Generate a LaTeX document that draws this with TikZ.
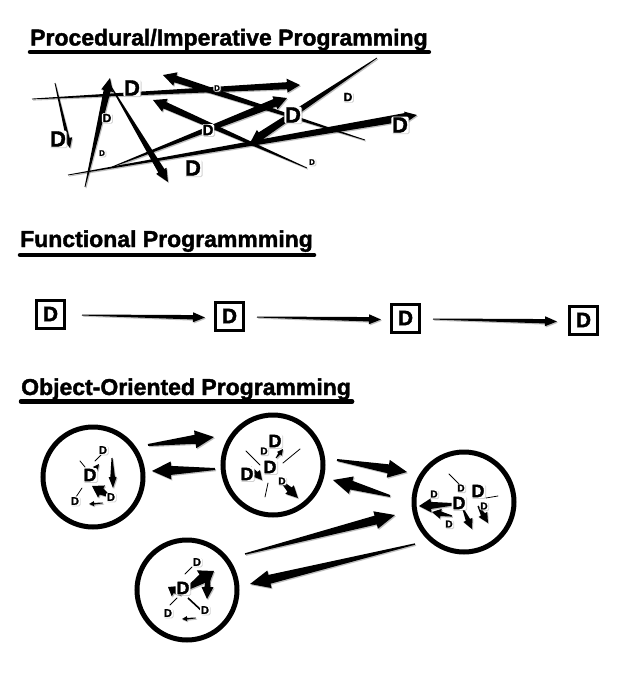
\documentclass[tikz,border=0pt]{standalone}
\usepackage{fontspec}
\setmainfont{Liberation Sans}
\newfontfamily\heavyfont[FakeBold=1.6]{Liberation Sans Bold}
\usetikzlibrary{calc,shadows}

% tapered arrow: #1 tail, #2 tip, #3 tail half-width, #4 shaft half-width at head, #5 head length, #6 head half-width
\newcommand\tarrow[6]{%
  \path (#1) coordinate (tas) (#2) coordinate (tae);
  \pgfpointdiff{\pgfpointanchor{tas}{center}}{\pgfpointanchor{tae}{center}}%
  \pgfgetlastxy{\tadx}{\tady}%
  \pgfmathsetmacro\taang{atan2(\tady,\tadx)}%
  \pgfmathsetmacro\talen{veclen(\tadx,\tady)}%
  \pgfmathsetmacro\tamid{\talen-#5}%
  \begin{scope}[shift={(tas)}, xshift=1pt, yshift=-1.2pt, rotate=\taang, x=1pt, y=1pt]
    \fill[black, opacity=0.25] (0,#3) -- (\tamid,#4) -- (\tamid,#6) -- (\talen,0) -- (\tamid,-#6) -- (\tamid,-#4) -- (0,-#3) -- cycle;
  \end{scope}
  \begin{scope}[shift={(tas)}, rotate=\taang, x=1pt, y=1pt]
    \fill[black] (0,#3) -- (\tamid,#4) -- (\tamid,#6) -- (\talen,0) -- (\tamid,-#6) -- (\tamid,-#4) -- (0,-#3) -- cycle;
  \end{scope}}

\begin{document}
\begin{tikzpicture}[x=1pt,y=-1pt,
  ttl/.style={font=\heavyfont\fontsize{23}{24}\selectfont, anchor=base west, inner sep=0pt},
  uline/.style={line width=4.5pt, line cap=round},
  fbox/.style={draw, line width=3pt, minimum size=28pt, inner sep=0pt, fill=white,
     font=\heavyfont\fontsize{21}{21}\selectfont,
     drop shadow={opacity=0.35, shadow xshift=1pt, shadow yshift=-1.2pt}},
  obj/.style={draw, circle, line width=5pt, minimum size=100pt, inner sep=0pt, fill=white,
     drop shadow={opacity=0.3, shadow xshift=1.2pt, shadow yshift=-1.5pt}},
  dl/.style={font=\heavyfont\fontsize{#1}{#1}\selectfont, fill=white, rounded corners=1.5pt,
     inner sep=0.8pt, drop shadow={opacity=0.35, shadow xshift=0.8pt, shadow yshift=-0.8pt}},
  thinl/.style={line width=0.8pt, line cap=round}]
\useasboundingbox[fill=white] (0,0) rectangle (628,680);

% ---------- titles ----------
\node[ttl] (t1) at (30,45.5) {Procedural/Imperative Programming};
\draw[uline] ($(t1.base west)+(0,6.5)$) -- ($(t1.base east)+(1,6.5)$);
\node[ttl] (t2) at (20,247) {Functional Programmming};
\draw[uline] ($(t2.base west)+(0,8)$) -- ($(t2.base east)+(1,8)$);
\node[ttl] (t3) at (21,395) {Object-Oriented Programming};
\draw[uline] ($(t3.base west)+(0,6.5)$) -- ($(t3.base east)+(1,6.5)$);

% ---------- procedural ----------
\tarrow{32,99}{300,85}{0.4}{3.5}{13}{7}
\tarrow{365,140}{163,75}{0.4}{3.5}{13}{7}
\tarrow{307,168}{153,100}{0.4}{3.5}{13}{7}
\tarrow{68,175}{417,115}{0.4}{4}{12}{5.5}
\tarrow{112,167}{287,98}{0.4}{4}{13}{7}
\tarrow{377,58}{250,143}{0.4}{4}{13}{7}
\tarrow{85,187}{110,78}{0.4}{3.5}{13}{6}
\tarrow{110,85}{168,182}{0.4}{3.5}{13}{6}
\tarrow{55,83}{70,148}{0.4}{1.8}{10}{4.5}

\node[dl=22] (p1) at (132,88) {D};
\node[dl=8] (p2) at (217,88) {D};
\node[dl=12] (p3) at (348,97) {D};
\node[dl=22] (p4) at (293,115) {D};
\node[dl=22] (p5) at (400,125) {D};
\node[dl=22] (p6) at (58,139) {D};
\node[dl=12] (p7) at (107,118) {D};
\node[dl=15] (p8) at (208,130) {D};
\node[dl=8] (p9) at (102,153) {D};
\node[dl=22] (p10) at (193,168) {D};
\node[dl=8] (p11) at (312,162) {D};

% ---------- functional ----------
\node[fbox] (b1) at (50.5,314) {D};
\node[fbox] (b2) at (229.5,316) {D};
\node[fbox] (b3) at (405.5,318) {D};
\node[fbox] (b4) at (583.5,320) {D};
\tarrow{$(b1.east)+(16,1)$}{$(b2.west)+(-9,1.5)$}{0.5}{2.2}{12}{5}
\tarrow{$(b2.east)+(12,1)$}{$(b3.west)+(-9,1.5)$}{0.5}{2.2}{12}{5}
\tarrow{$(b3.east)+(12,1)$}{$(b4.west)+(-11,1.5)$}{0.5}{2.2}{12}{5}

% ---------- object-oriented ----------
\node[obj] (c1) at (93,477) {};
\node[obj] (c2) at (273,465) {};
\node[obj] (c3) at (464,502) {};
\node[obj] (c4) at (187,590) {};

\tarrow{148,445}{214,437}{1}{4.5}{19}{9}
\tarrow{215,469}{152,471}{1}{4.5}{19}{9}
\tarrow{337,460}{407,472}{1}{4.5}{19}{9}
\tarrow{390,496}{333,480}{1}{4.5}{19}{9}
\tarrow{245,554}{395,515}{0.7}{4.5}{20}{9}
\tarrow{415,544}{250,584}{0.7}{4.5}{20}{9}

% circle 1 contents
\draw[thinl] (101,455) -- (95,461);
\draw[thinl] (80,461) -- (85,467);
\draw[thinl] (76,497) -- (82,488);
\tarrow{112,458}{113,488}{0.5}{2.3}{11}{4}
\tarrow{111,497}{92,486}{0.8}{3.5}{11}{7}
\tarrow{92,473}{99,464}{0.3}{1}{6}{3}
\tarrow{103,503}{89,504}{0.4}{0.8}{5}{2.5}
\node[dl=18] (d11) at (90,475) {D};
\node[dl=11] (d12) at (103,450) {D};
\node[dl=11] (d13) at (75,501) {D};
\node[dl=11] (d14) at (111,497) {D};

% circle 2 contents
\draw[thinl] (246,451) -- (260,465);
\draw[thinl] (300,449) -- (283,463);
\draw[thinl] (268,483) -- (265,497);
\tarrow{280,480}{298,498}{0.7}{3}{12}{6}
\tarrow{276,458}{283,449}{0.4}{1.2}{6}{3}
\tarrow{251,467}{262,480}{0.5}{1.8}{9}{5}
\node[dl=18] (d21) at (275,441) {D};
\node[dl=10] (d22) at (264,451) {D};
\node[dl=18] (d23) at (270,467) {D};
\node[dl=18] (d24) at (247,474) {D};
\node[dl=10] (d25) at (282,481) {D};

% circle 3 contents
\draw[thinl] (449,474) -- (459,484);
\draw[thinl] (486,498) -- (498,496);
\tarrow{458,504}{419,506}{0.7}{3.5}{12}{7}
\tarrow{452,516}{432,512}{0.6}{2.3}{9}{5}
\tarrow{463,509}{472,529}{0.6}{2.3}{10}{5}
\tarrow{478,506}{488,523}{0.6}{2.3}{10}{5}
\node[dl=10] (d31) at (434,494) {D};
\node[dl=10] (d32) at (461,488) {D};
\node[dl=18] (d33) at (459,503) {D};
\node[dl=18] (d34) at (478,491) {D};
\node[dl=10] (d35) at (484,506) {D};
\node[dl=10] (d36) at (449,524) {D};

% circle 4 contents
\draw[thinl] (192,567) -- (185,574);
\draw[thinl] (170,605) -- (177,598);
\draw[line width=1.6pt] (188,598) -- (202,611);
\tarrow{185,590}{214,571}{1.2}{5}{14}{10}
\tarrow{208,573}{207,599}{1}{3}{12}{6}
\tarrow{181,595}{168,587}{0.7}{2.3}{8}{6}
\tarrow{196,618}{182,619}{0.4}{0.8}{5}{2.5}
\node[dl=18] (d41) at (183,588) {D};
\node[dl=11] (d42) at (197,562) {D};
\node[dl=11] (d43) at (168,613) {D};
\node[dl=11] (d44) at (205,610) {D};
\end{tikzpicture}
\end{document}
